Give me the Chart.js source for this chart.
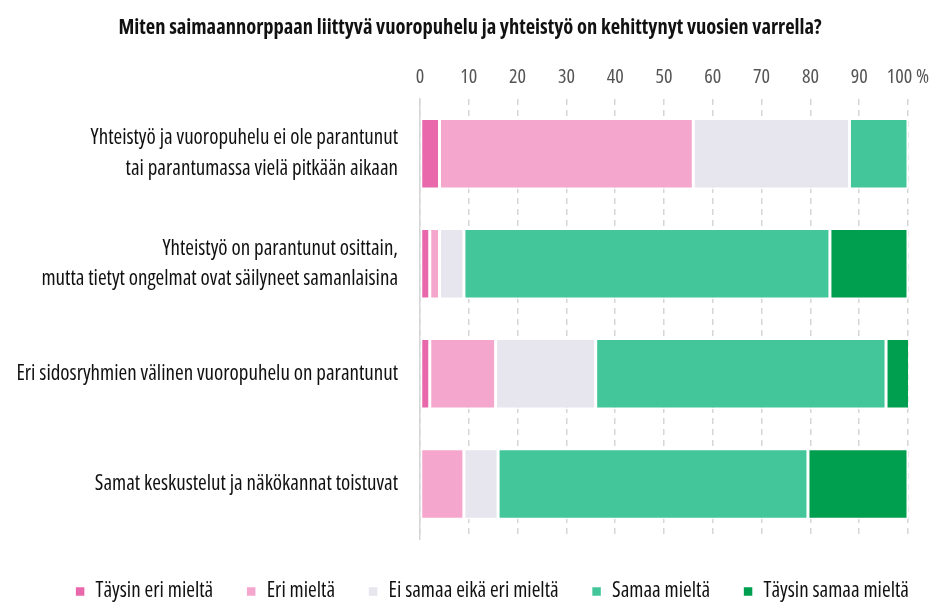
<!DOCTYPE html>
<html>
<head>
<meta charset="utf-8">
<script src="https://cdn.jsdelivr.net/npm/chart.js@4"></script>
<style>
  html, body { margin: 0; padding: 0; background: #fff; }
  #wrap { width: 939px; height: 603px; }
</style>
</head>
<body>
<div id="wrap"><canvas id="myChart"></canvas></div>
<script>
  'use strict'

  const categories = [
    ['Yhteistyö ja vuoropuhelu ei ole parantunut', 'tai parantumassa vielä pitkään aikaan'],
    ['Yhteistyö on parantunut osittain,', 'mutta tietyt ongelmat ovat säilyneet samanlaisina'],
    'Eri sidosryhmien välinen vuoropuhelu on parantunut',
    'Samat keskustelut ja näkökannat toistuvat'
  ]
  const seriesNames = ['Täysin eri mieltä', 'Eri mieltä', 'Ei samaa eikä eri mieltä', 'Samaa mieltä', 'Täysin samaa mieltä']
  const taysinEri = [4, 2, 2, 0]
  const eri = [52, 2, 13.5, 9]
  const eiSamaaEiEri = [32, 5, 20.5, 7]
  const samaa = [12, 75, 59.5, 63.5]
  const taysinSamaa = [0, 16, 5, 20.5]
  const colors = ['#e868ab', '#f4a6cd', '#e7e5ed', '#43c79a', '#009e4f']

  // Chart.js checks font.style, so the stretch keyword rides in weight instead
  Chart.defaults.font.family = "'Open Sans', sans-serif"
  Chart.defaults.font.weight = 'condensed'

  const values = [taysinEri, eri, eiSamaaEiEri, samaa, taysinSamaa]

  // nudge title and legend a bit right / legend down, like the original
  const nudge = {
    id: 'nudge',
    afterLayout (chart) {
      chart.titleBlock.left += 16
      chart.titleBlock.right += 16
      chart.legend.left += 38
      chart.legend.right += 38
      chart.legend.top += 9
      chart.legend.bottom += 9
    }
  }

  const ctx = document.getElementById('myChart')
  // eslint-disable-next-line no-unused-vars
  const myChart = new Chart(ctx, {
    type: 'bar',
    data: {
      labels: categories,
      datasets: seriesNames.map((name, i) => ({
        label: name,
        data: values[i],
        backgroundColor: colors[i],
        borderColor: '#ffffff',
        borderWidth: 1.5,
        borderSkipped: false,
        barPercentage: 0.64,
        categoryPercentage: 1
      }))
    },
    plugins: [nudge],
    options: {
      indexAxis: 'y',
      responsive: true,
      maintainAspectRatio: false,
      animation: false,
      layout: { padding: { left: 0, right: 31, top: 10, bottom: 0 } },
      scales: {
        x: {
          position: 'top',
          stacked: true,
          min: 0,
          max: 100,
          ticks: {
            stepSize: 10,
            color: '#555',
            font: { size: 20 },
            padding: 9,
            maxRotation: 0,
            autoSkip: false,
            callback: (v) => v === 100 ? '100 %' : v
          },
          grid: { color: '#d6d6d6', lineWidth: 1.5, drawTicks: false },
          border: { display: false, dash: [6, 5] }
        },
        y: {
          stacked: true,
          afterFit: (s) => { s.width = 420 },
          ticks: { color: '#111', font: { size: 21, lineHeight: 1.45 }, padding: 14 },
          grid: { display: false },
          border: { display: true, color: '#d6d6d6', width: 1.5 }
        }
      },
      plugins: {
        title: {
          display: true,
          text: 'Miten saimaannorppaan liittyvä vuoropuhelu ja yhteistyö on kehittynyt vuosien varrella?',
          color: '#111',
          font: { size: 20.5, weight: 'bold condensed' },
          padding: { top: 6, bottom: 16 }
        },
        legend: {
          position: 'bottom',
          labels: {
            boxWidth: 10,
            boxHeight: 10,
            color: '#111',
            font: { size: 21 },
            padding: 33
          }
        },
        tooltip: { enabled: false }
      }
    }
  })
</script>
</body>
</html>
